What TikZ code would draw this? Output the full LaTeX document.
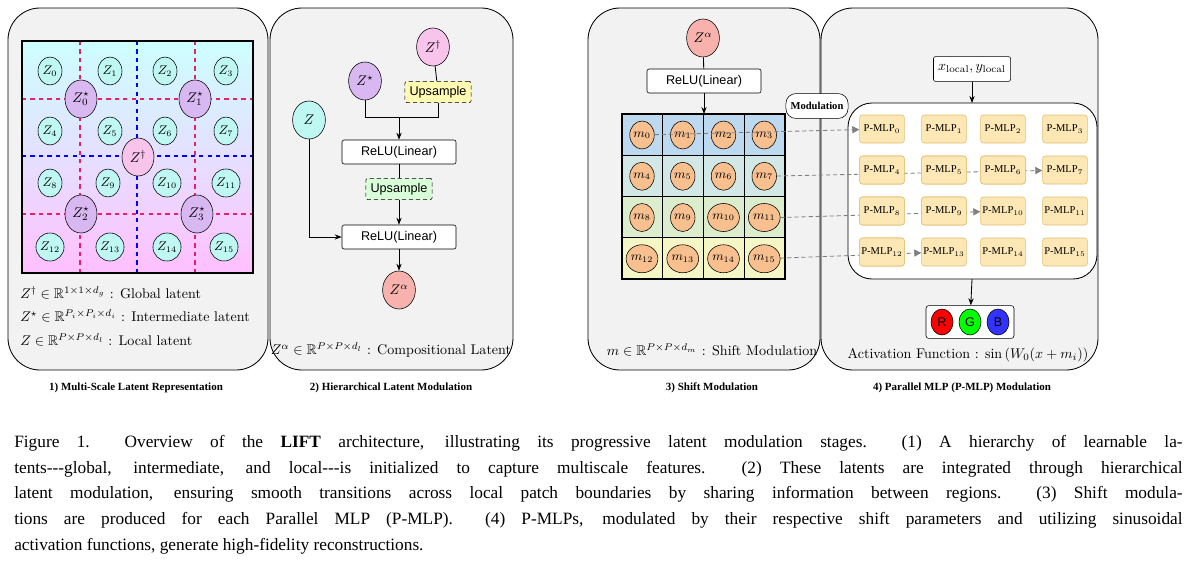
\documentclass[tikz,border=0pt]{standalone}
\usepackage{fontspec}
\usepackage{amssymb}
\newfontfamily\tms{Liberation Serif}
\newfontfamily\arl{Liberation Sans}
\usetikzlibrary{shapes.geometric,arrows.meta}
\definecolor{panel}{HTML}{F2F2F2}
\definecolor{zc}{HTML}{BFF7F2}
\definecolor{zs}{HTML}{D9B8F2}
\definecolor{zd}{HTML}{F8C4EC}
\definecolor{za}{HTML}{F8B2AE}
\definecolor{mo}{HTML}{F8BF8F}
\definecolor{pm}{HTML}{FDE7B5}
\definecolor{pmb}{HTML}{E0BF70}
\definecolor{dpink}{HTML}{E8206A}
\definecolor{row0}{HTML}{BCD9F0}
\definecolor{row1}{HTML}{D2E8E6}
\definecolor{row2}{HTML}{DCEDCD}
\definecolor{row3}{HTML}{F5F6C5}
\begin{document}
\begin{tikzpicture}[x=0.025cm,y=-0.025cm,
 panel/.style={draw,fill=panel,rounded corners=0.8cm,line width=0.6pt},
 ttl/.style={font=\tms\bfseries\fontsize{7.8}{9}\selectfont},
 zl/.style={ellipse,draw,fill=zc,minimum width=0.6cm,minimum height=0.7cm,inner sep=0pt,font=\small},
 zst/.style={ellipse,draw,fill=zs,minimum width=0.8cm,minimum height=0.95cm,inner sep=0pt},
 zdg/.style={ellipse,draw,fill=zd,minimum width=0.8cm,minimum height=0.95cm,inner sep=0pt},
 big/.style={ellipse,draw,minimum width=0.82cm,minimum height=0.95cm,inner sep=0pt},
 relu/.style={draw,fill=white,rounded corners=1.5pt,minimum width=2.85cm,minimum height=0.6cm,font=\arl\small},
 ups/.style={draw,densely dashed,rounded corners=1.5pt,minimum width=1.6cm,minimum height=0.5cm,font=\arl\small},
 mc/.style={ellipse,draw,fill=mo,minimum width=0.6cm,minimum height=0.7cm,inner sep=0pt,font=\small},
 pmlp/.style={draw=pmb,fill=pm,rounded corners=2pt,minimum width=1.12cm,minimum height=0.7cm,inner sep=0pt,font=\tms\fontsize{7.5}{9}\selectfont},
 arr/.style={-{Stealth[length=5pt]},line width=0.6pt},
 darr/.style={-{Triangle[length=5pt,width=5pt]},draw=gray,densely dashed,line width=0.6pt},
 captxt/.style={anchor=north west,inner sep=0pt,text width=29.2cm,align=justify,font=\tms\fontsize{12.3}{15}\selectfont}
]
\useasboundingbox (0,0) rectangle (1200,566);
% panels
\draw[panel] (8,8) rectangle (268,370);
\draw[panel] (270,8) rectangle (513,370);
\draw[panel] (588,8) rectangle (820,370);
\draw[panel] (821,8) rectangle (1098,370);
\node[ttl] (t1) at (136,388) {1) Multi-Scale Latent Representation};
\node[ttl] (t2) at (391,388) {2) Hierarchical Latent Modulation};
\node[ttl] (t3) at (712,388) {3) Shift Modulation};
\node[ttl] (t4) at (962,388) {4) Parallel MLP (P-MLP) Modulation};
% panel 1
\shade[top color=cyan!20,bottom color=magenta!25] (22,41) rectangle (253,273);
\foreach \v in {80,195} {\draw[dpink,dashed,line width=0.9pt] (\v,41) -- (\v,273); \draw[dpink,dashed,line width=0.9pt] (22,\v+19) -- (253,\v+19);}
\draw[blue,dashed,line width=0.9pt] (137,41) -- (137,273);
\draw[blue,dashed,line width=0.9pt] (22,156) -- (253,156);
\draw[line width=1.4pt] (22,41) rectangle (253,273);
\foreach \i/\x/\y in {0/50/71,1/110/71,2/165/71,3/226/71,4/50/131,5/110/131,6/165/131,7/226/131,8/50/183,9/108/183,10/167/183,11/226/183,12/50/247,13/110/247,14/167/247,15/224/247}
 \node[zl] (z\i) at (\x,\y) {$Z_{\i}$};
\node[zst] (zs0) at (81,99) {$Z_0^\star$};
\node[zst] (zs1) at (195,99) {$Z_1^\star$};
\node[zst] (zs2) at (81,214) {$Z_2^\star$};
\node[zst] (zs3) at (197,214) {$Z_3^\star$};
\node[zdg] (zd) at (138,157) {$Z^\dagger$};
\node[anchor=west,inner sep=0pt] (l1) at (20,293) {$Z^\dagger\in\mathbb{R}^{1\times1\times d_g}$ : Global latent};
\node[anchor=west,inner sep=0pt] (l2) at (20,316) {$Z^\star\in\mathbb{R}^{P_i\times P_i\times d_i}$ : Intermediate latent};
\node[anchor=west,inner sep=0pt] (l3) at (20,340) {$Z\in\mathbb{R}^{P\times P\times d_l}$ : Local latent};
% panel 2
\node[big,fill=zd] (p2d) at (433,47) {$Z^\dagger$};
\node[big,fill=zs] (p2s) at (365,81) {$Z^\star$};
\node[ups,fill=yellow!30] (up1) at (438,92) {Upsample};
\node[big,fill=zc] (p2z) at (309,120) {$Z$};
\node[relu] (r1) at (399,152) {ReLU(Linear)};
\node[ups,fill=green!15] (up2) at (399,189) {Upsample};
\node[relu] (r2) at (399,237) {ReLU(Linear)};
\node[big,fill=za] (p2a) at (399,290) {$Z^\alpha$};
\coordinate (jn) at (399,117);
\draw[line width=0.6pt] (p2d) -- (up1);
\draw[line width=0.6pt] (p2s) |- (jn);
\draw[line width=0.6pt] (up1) |- (jn);
\draw[arr] (jn) -- (r1);
\draw[line width=0.6pt] (r1) -- (up2);
\draw[arr] (up2) -- (r2);
\draw[arr] (p2z) |- (r2);
\draw[arr] (r2) -- (p2a);
\node (cl) at (391,350) {$Z^\alpha\in\mathbb{R}^{P\times P\times d_l}$ : Compositional Latent};
% panel 3
\node[big,fill=za] (p3a) at (703,38) {$Z^\alpha$};
\node[relu] (r3) at (704,81) {ReLU(Linear)};
\draw[line width=0.6pt] (p3a) -- (r3);
\foreach \r in {0,...,3}
 \fill[fill=row\r] (622,114+\r*41.25) rectangle (785,155.25+\r*41.25);
\foreach \k in {1,2,3} {\draw[line width=0.9pt] (622+\k*40.75,114) -- (622+\k*40.75,279); \draw[line width=0.9pt] (622,114+\k*41.25) -- (785,114+\k*41.25);}
\draw[line width=1.4pt] (622,114) rectangle (785,279);
\coordinate (gtop) at (704,114);
\draw[arr] (r3) -- (gtop);
\foreach \r in {0,...,3} \foreach \c in {0,...,3} {
 \pgfmathtruncatemacro\n{\r*4+\c}
 \node[mc] (m\n) at (642+\c*40.75,135+\r*41.25) {$m_{\n}$};}
\node (sm) at (712,350) {$m\in\mathbb{R}^{P\times P\times d_m}$ : Shift Modulation};
\node[draw,fill=white,rounded corners=7pt,minimum width=1.3cm,minimum height=0.62cm,font=\tms\bfseries\fontsize{7.5}{9}\selectfont] (mod) at (817,106) {Modulation};
% panel 4
\node[draw,fill=white,rounded corners=1.5pt,minimum width=1.9cm,minimum height=0.62cm] (xy) at (972,69) {$x_{\mathrm{local}},y_{\mathrm{local}}$};
\draw[fill=white,rounded corners=0.6cm,line width=0.6pt] (848,103) rectangle (1097,279);
\coordinate (inb) at (972,103);
\draw[arr] (xy) -- (inb);
\foreach \r in {0,...,3} \foreach \c/\x in {0/882,1/944,2/1003,3/1065} {
 \pgfmathtruncatemacro\n{\r*4+\c}
 \node[pmlp] (p\n) at (\x,129+\r*41) {P-MLP$_{\n}$};}
\draw[darr] (m0) -- (p0);
\draw[darr] (m7) -- (p7);
\draw[darr] (m11.east) -- (p10);
\draw[darr] (m15) -- (p13);
\foreach \n in {4,5,6,8,9,12} \node[pmlp] at (p\n) {P-MLP$_{\n}$};
\node[draw,fill=white,rounded corners=2pt,minimum width=2.2cm,minimum height=0.82cm] (rgb) at (970,322) {};
\coordinate (outb) at (972,279);
\draw[arr] (outb) -- (rgb);
\node[ellipse,draw,fill=red,minimum width=0.55cm,minimum height=0.65cm,inner sep=0pt,font=\arl\small] (cr) at (942,322) {R};
\node[ellipse,draw,fill=green,minimum width=0.55cm,minimum height=0.65cm,inner sep=0pt,font=\arl\small] (cg) at (970,322) {G};
\node[ellipse,draw,fill=blue!80,minimum width=0.55cm,minimum height=0.65cm,inner sep=0pt,font=\arl\small] (cb) at (998,322) {B};
\node (af) at (968,355) {Activation Function : $\sin\left(W_0(x+m_i)\right)$};
% caption
\node[captxt] (c1) at (14,435) {{\parfillskip=0pt Figure 1.\ \ Overview of the \textbf{LIFT} architecture, illustrating its progressive latent modulation stages.\ \ (1) A hierarchy of learnable la-\par}};
\node[captxt] (c2) at (14,461) {{\parfillskip=0pt tents---global, intermediate, and local---is initialized to capture multiscale features.\ \ (2) These latents are integrated through hierarchical\par}};
\node[captxt] (c3) at (14,486) {{\parfillskip=0pt latent modulation, ensuring smooth transitions across local patch boundaries by sharing information between regions.\ \ (3) Shift modula-\par}};
\node[captxt] (c4) at (14,512) {{\parfillskip=0pt tions are produced for each Parallel MLP (P-MLP).\ \ (4) P-MLPs, modulated by their respective shift parameters and utilizing sinusoidal\par}};
\node[captxt] (c5) at (14,538) {activation functions, generate high-fidelity reconstructions.};
\end{tikzpicture}
\end{document}
